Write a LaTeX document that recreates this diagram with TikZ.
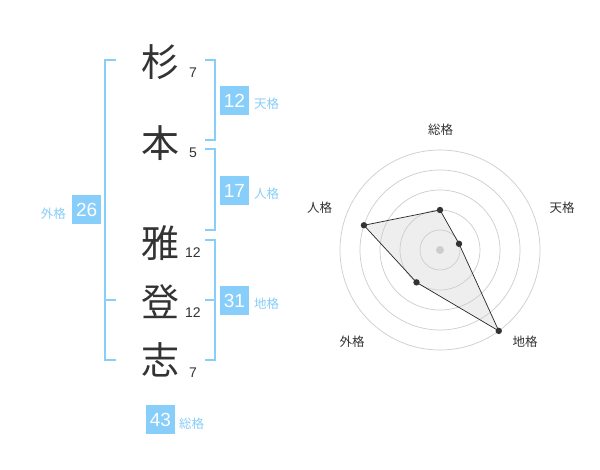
\documentclass[tikz,border=0pt]{standalone}
\usepackage{fontspec}
\setmainfont{Liberation Sans}
\newfontfamily\jp{Noto Sans CJK JP}
\definecolor{sky}{RGB}{135,206,250}
\definecolor{ink}{RGB}{51,51,51}
\definecolor{ringc}{RGB}{205,205,205}
\definecolor{areac}{RGB}{238,238,238}
\begin{document}
\begin{tikzpicture}[x=1pt,y=-1pt,
  kanji/.style={font=\jp\fontsize{38}{38}\selectfont, text=ink, inner sep=0},
  strokes/.style={font=\fontsize{14}{14}\selectfont, text=ink, inner sep=0},
  valbox/.style={fill=sky, text=white, minimum width=29, minimum height=29, inner sep=0, font=\fontsize{19}{19}\selectfont},
  lab/.style={font=\jp\fontsize{12.5}{12.5}\selectfont, text=sky, inner sep=0},
  brk/.style={draw=sky, line width=2},
  ring/.style={draw=ringc, line width=0.7},
  rlab/.style={font=\jp\fontsize{12.5}{12.5}\selectfont, text=ink, inner sep=0},
  dot/.style={fill=ink}]
\useasboundingbox (0,0) rectangle (600,470);
\fill[white] (0,0) rectangle (600,470);
% name characters
\node[kanji] (k1) at (160,62) {杉};
\node[kanji] (k2) at (160,143) {本};
\node[kanji] (k3) at (160,243) {雅};
\node[kanji] (k4) at (160,302) {登};
\node[kanji] (k5) at (160,360) {志};
\node[strokes] (s1) at (193,73) {7};
\node[strokes] (s2) at (193,153) {5};
\node[strokes] (s3) at (193,253) {12};
\node[strokes] (s4) at (193,313) {12};
\node[strokes] (s5) at (193,373) {7};
% brackets
\draw[brk] (116,60) -| (105,360) -- (116,360);
\draw[brk] (105,300) -- (116,300);
\draw[brk] (205,60) -| (215,140) -- (205,140);
\draw[brk] (205,149) -| (215,230) -- (205,230);
\draw[brk] (205,240) -| (215,360) -- (205,360);
\draw[brk] (205,300) -- (215,300);
% value boxes
\node[valbox] (b1) at (234.5,100.5) {12};
\node[lab, anchor=west] (l1) at (254,104) {天格};
\node[valbox] (b2) at (234.5,190.5) {17};
\node[lab, anchor=west] (l2) at (254,194) {人格};
\node[valbox] (b3) at (234.5,300.5) {31};
\node[lab, anchor=west] (l3) at (254,304) {地格};
\node[valbox] (b4) at (86.7,210) {26};
\node[lab] (l4) at (53.3,213.5) {外格};
\node[valbox] (b5) at (160.5,419.5) {43};
\node[lab, anchor=west] (l5) at (179,423.5) {総格};
% radar chart
\coordinate (c) at (440,250);
\begin{scope}[shift={(c)}, y=1pt]
  \coordinate (p1) at (90:40);
  \coordinate (p2) at (18:20);
  \coordinate (p3) at (-54:100);
  \coordinate (p4) at (234:40);
  \coordinate (p5) at (162:80);
  \fill[areac] (p1) -- (p2) -- (p3) -- (p4) -- (p5) -- cycle;
  \foreach \r in {20,40,60,80,100} \draw[ring] (0,0) circle[radius=\r];
  \fill[ringc] (0,0) circle[radius=4];
  \draw[black!85, line width=0.7] (p1) -- (p2) -- (p3) -- (p4) -- (p5) -- cycle;
  \foreach \p in {p1,p2,p3,p4,p5} \fill[dot] (\p) circle[radius=3.2];
\end{scope}
\node[rlab] (r1) at (440.5,130) {総格};
\node[rlab] (r2) at (562,208) {天格};
\node[rlab] (r3) at (319.5,208) {人格};
\node[rlab] (r4) at (352,342) {外格};
\node[rlab] (r5) at (525,342) {地格};
\end{tikzpicture}
\end{document}
